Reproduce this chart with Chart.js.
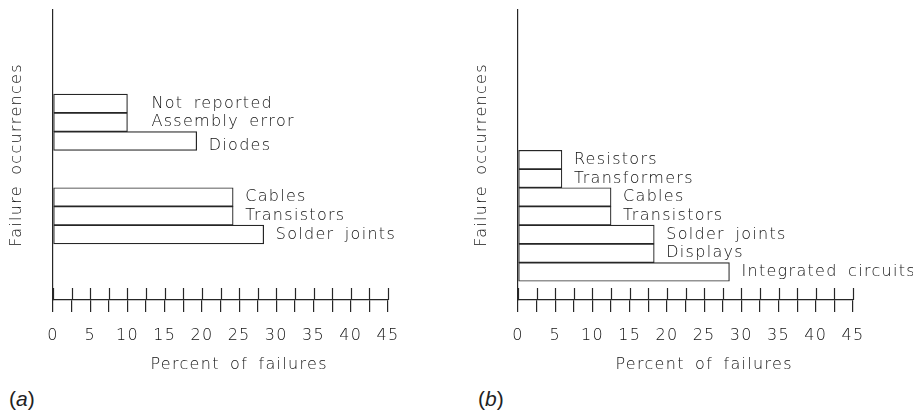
<!DOCTYPE html>
<html>
<head>
<meta charset="utf-8">
<title>Failure occurrences</title>
<script src="https://cdn.jsdelivr.net/npm/chart.js@4.4.1/dist/chart.umd.min.js"></script>
<style>
  body { margin: 0; background: #fff; width: 913px; height: 417px; position: relative; overflow: hidden; }
  .panel { position: absolute; top: 0; }
  .tag { position: absolute; top: 387px; font: 21px 'Liberation Sans', Arial, sans-serif; color: #222; }
</style>
</head>
<body>
<div class="panel" style="left:0"><canvas id="chartA" width="448" height="385"></canvas></div>
<div class="panel" style="left:465px"><canvas id="chartB" width="448" height="385"></canvas></div>
<div class="tag" style="left:9px">(<i>a</i>)</div>
<div class="tag" style="left:478px">(<i>b</i>)</div>
<script>
// rows are listed from the bottom up, '' leaves a row empty
const rowsA = ['', '', '', 'Solder joints', 'Transistors', 'Cables', '', '', 'Diodes', 'Assembly error', 'Not reported'];
const percentA = [null, null, null, 28.3, 24.2, 24.2, null, null, 19.3, 10, 10];

const rowsB = ['', 'Integrated circuits', 'Displays', 'Solder joints', 'Transistors', 'Cables', 'Transformers', 'Resistors'];
const percentB = [null, 28.4, 18.3, 18.3, 12.5, 12.5, 5.9, 5.9];

const percentTicks = [0, 5, 10, 15, 20, 25, 30, 35, 40, 45];

const INK = '#262626';
const TEXT = '#111';
const FONT_FAMILY = "'DejaVu Sans', sans-serif";
const FONT_WEIGHT = '200';

Chart.defaults.font.family = FONT_FAMILY;
Chart.defaults.font.weight = FONT_WEIGHT;
Chart.defaults.font.size = 16;
Chart.defaults.color = TEXT;

// wide, plotter-like lettering; tick stubs above the x axis, bar names and the axis title
const sketchAxis = {
  id: 'sketchAxis',
  beforeDraw(chart) {
    chart.ctx.letterSpacing = '1.3px';
    chart.ctx.wordSpacing = '4px';
  },
  afterDraw(chart, args, opts) {
    const { ctx } = chart;
    const xs = chart.scales.x;
    ctx.save();
    ctx.strokeStyle = INK;
    ctx.lineWidth = 1.2;
    ctx.beginPath();
    xs.ticks.forEach(t => {
      const px = Math.round(xs.getPixelForValue(t.value)) + 0.5;
      ctx.moveTo(px, xs.top - 12);
      ctx.lineTo(px, xs.top);
    });
    ctx.stroke();

    ctx.font = FONT_WEIGHT + ' 16px ' + FONT_FAMILY;
    ctx.fillStyle = TEXT;
    ctx.textBaseline = 'middle';
    ctx.textAlign = 'left';
    const ds = chart.data.datasets[0].data;
    const nudge = opts.nudge || {};
    chart.getDatasetMeta(0).data.forEach((bar, i) => {
      const name = ds[i].name;
      const n = nudge[name] || [0, 0];
      ctx.fillText(name, bar.x + 12 + n[0], bar.y + n[1]);
    });

    ctx.textAlign = 'center';
    ctx.fillText('Percent of failures', xs.getPixelForValue(25), xs.top + 65);
    ctx.restore();
  }
};

function makeChart(id, rows, values, nudge) {
  const points = rows
    .map((name, i) => ({ name, x: values[i], y: i + 0.5 }))
    .filter(p => p.name);

  return new Chart(document.getElementById(id), {
    type: 'bar',
    data: {
      datasets: [{
        data: points,
        backgroundColor: '#fff',
        borderColor: INK,
        borderWidth: 1.2,
        borderSkipped: false,
        categoryPercentage: 1,
        barPercentage: 1
      }]
    },
    options: {
      indexAxis: 'y',
      responsive: false,
      animation: false,
      layout: { padding: { left: 0, right: 60, top: 10, bottom: 0 } },
      plugins: {
        legend: { display: false },
        tooltip: { enabled: false },
        sketchAxis: { nudge }
      },
      scales: {
        x: {
          type: 'linear',
          min: 0,
          max: 45,
          border: { color: INK, width: 1.2 },
          grid: { drawOnChartArea: false, color: INK, lineWidth: 1.2, tickLength: 12 },
          ticks: {
            stepSize: 2.5,
            autoSkip: false,
            maxRotation: 0,
            padding: 14,
            callback: v => percentTicks.includes(v) ? String(v) : ''
          },
          afterFit: s => { s.height = 85; }
        },
        y: {
          type: 'linear',
          offset: false,
          bounds: 'data',
          min: 0,
          max: 15.5,
          border: { color: INK, width: 1.2 },
          grid: { drawOnChartArea: false, drawTicks: false },
          ticks: { display: false, stepSize: 1, includeBounds: false },
          title: { display: true, text: 'Failure occurrences', padding: { top: 7, bottom: 0 } },
          afterFit: s => { s.width = 53; }
        }
      }
    },
    plugins: [sketchAxis]
  });
}

makeChart('chartA', rowsA, percentA, { 'Not reported': [12, 0], 'Assembly error': [12, 0], 'Diodes': [0, 5] });
makeChart('chartB', rowsB, percentB, {});
</script>
</body>
</html>
